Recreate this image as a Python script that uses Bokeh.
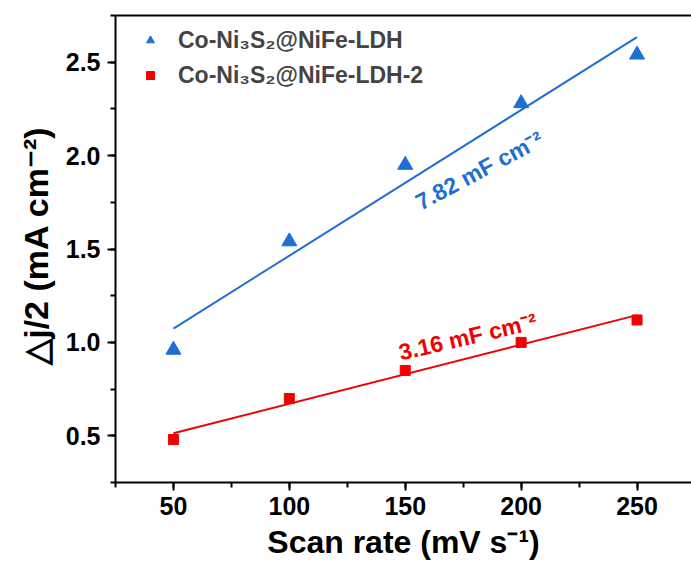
import numpy as np
from bokeh.plotting import figure
from bokeh.models import (SingleIntervalTicker, FixedTicker, LinearAxis, Range1d, Legend,
                          LegendItem, ColumnDataSource, NumeralTickFormatter)
from bokeh.core.properties import value
from bokeh.embed import file_html
from bokeh.resources import INLINE

# ---- data ----
scan_rate = [50, 100, 150, 200, 250]
ldh = [0.96, 1.54, 1.95, 2.28, 2.54]
ldh2 = [0.48, 0.70, 0.85, 1.00, 1.12]
label_ldh = "Co-Ni\u2083S\u2082@NiFe-LDH"
label_ldh2 = "Co-Ni\u2083S\u2082@NiFe-LDH-2"
cap_texts = ["7.82 mF cm\u207b\u00b2", "3.16 mF cm\u207b\u00b2"]
cap_x = [182, 177]
cap_y = [1.92, 1.03]
cap_angle_deg = [28, 13]
x_title = "Scan rate (mV s\u207b\u00b9)"
y_title = "\u25b3j/2 (mA cm\u207b\u00b2)"

BLUE = "#1f6fd2"
RED = "#f00000"
FONT = "Liberation Sans"

p = figure(width=691, height=565, output_backend="svg", toolbar_location=None,
           x_range=Range1d(25, 273.5), y_range=Range1d(0.25, 2.75),
           min_border_left=115, min_border_right=0, min_border_top=15, min_border_bottom=83)
p.outline_line_color = None
p.xgrid.visible = False
p.ygrid.visible = False
p.background_fill_color = "white"
p.border_fill_color = "white"

# linear fits
xs = np.array(scan_rate, dtype=float)
k1, b1 = np.polyfit(xs, np.array(ldh), 1)
k2, b2 = np.polyfit(xs, np.array(ldh2), 1)
fx = np.array([scan_rate[0], scan_rate[-1]], dtype=float)
p.line(fx, k1 * fx + b1, line_color=BLUE, line_width=2)
p.line(fx, k2 * fx + b2, line_color=RED, line_width=2)

r1 = p.scatter(scan_rate, ldh, marker="triangle", size=15, fill_color=BLUE, line_color=BLUE)
r2 = p.scatter(scan_rate, ldh2, marker="square", size=10, fill_color=RED, line_color=RED)

src = ColumnDataSource(dict(x=cap_x, y=cap_y, t=cap_texts,
                            a=[np.deg2rad(d) for d in cap_angle_deg], c=[BLUE, RED]))
p.text(x="x", y="y", text="t", angle="a", text_color="c", source=src,
       text_font=value(FONT), text_font_style="bold", text_font_size="23px",
       text_align="center", text_baseline="middle")

for ax in (p.xaxis[0], p.yaxis[0]):
    ax.axis_line_width = 2
    ax.major_tick_line_width = 2
    ax.minor_tick_line_width = 2
    ax.major_tick_out = 8
    ax.major_tick_in = 0
    ax.minor_tick_out = 5
    ax.minor_tick_in = 0
    ax.major_label_text_font = FONT
    ax.major_label_text_font_style = "bold"
    ax.major_label_text_font_size = "25px"
    ax.major_label_text_color = "black"
    ax.axis_label_text_font = FONT
    ax.axis_label_text_font_style = "bold"
    ax.axis_label_text_font_size = "32px"
    ax.axis_label_text_color = "black"

p.xaxis[0].ticker = SingleIntervalTicker(interval=50, num_minor_ticks=2)
p.yaxis[0].ticker = SingleIntervalTicker(interval=0.5, num_minor_ticks=2)
p.yaxis[0].formatter = NumeralTickFormatter(format="0.0")
p.xaxis[0].axis_label = x_title
p.yaxis[0].axis_label = y_title
p.yaxis[0].axis_label_text_font_size = "34px"
p.xaxis[0].major_label_standoff = 6
p.yaxis[0].major_label_standoff = 7
p.xaxis[0].axis_label_standoff = 6
p.yaxis[0].axis_label_standoff = 8

top = LinearAxis(ticker=FixedTicker(ticks=[]), major_tick_line_color=None,
                 minor_tick_line_color=None, axis_line_width=2,
                 major_tick_out=0, minor_tick_out=0, major_label_standoff=0)
p.add_layout(top, "above")

legend = Legend(items=[LegendItem(label=label_ldh, renderers=[r1]),
                       LegendItem(label=label_ldh2, renderers=[r2])],
                location=(25, 392), orientation="vertical",
                label_text_font=FONT, label_text_font_style="bold", label_text_font_size="23px",
                label_standoff=18, glyph_width=20, glyph_height=30, label_height=30,
                spacing=5, padding=0, margin=0,
                border_line_color=None, background_fill_alpha=0)
p.add_layout(legend, "center")

open("out.html", "w").write(file_html(p, INLINE))
